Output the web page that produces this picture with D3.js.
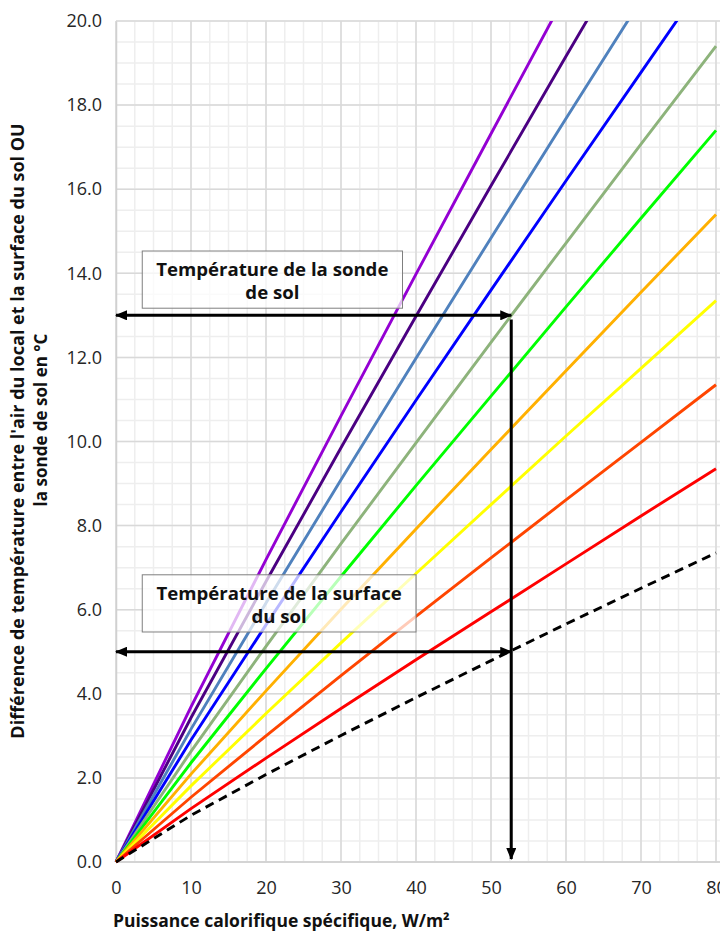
<!DOCTYPE html>
<html><head><meta charset="utf-8">
<script src="https://cdn.jsdelivr.net/npm/d3@7"></script>
<style>body{margin:0;background:#fff}svg{display:block;font-family:"Open Sans",sans-serif}</style>
</head><body><svg id="c" width="720" height="932"></svg>
<script>
// ---- data ----
const powerW = [0, 10, 20, 30, 40, 50, 60, 70, 80];
const curveViolet     = [0, 3.69, 7.19, 10.61, 13.98, 17.32, 20.64, 23.93, 27.20];
const curveIndigo     = [0, 3.43, 6.67, 9.85, 12.98, 16.08, 19.16, 22.21, 25.25];
const curveSteelBlue  = [0, 3.16, 6.16, 9.09, 11.98, 14.84, 17.68, 20.50, 23.30];
const curveBlue       = [0, 2.90, 5.64, 8.33, 10.98, 13.60, 16.20, 18.78, 21.35];
const curveOlive      = [0, 2.63, 5.13, 7.57, 9.97, 12.36, 14.72, 17.07, 19.40];
const curveGreen      = [0, 2.36, 4.60, 6.79, 8.95, 11.08, 13.20, 15.31, 17.40];
const curveOrange     = [0, 2.09, 4.07, 6.01, 7.92, 9.81, 11.68, 13.55, 15.40];
const curveYellow     = [0, 1.81, 3.53, 5.21, 6.86, 8.50, 10.13, 11.74, 13.35];
const curveOrangeRed  = [0, 1.54, 3.00, 4.43, 5.84, 7.23, 8.61, 9.98, 11.35];
const curveRed        = [0, 1.27, 2.47, 3.65, 4.81, 5.95, 7.09, 8.23, 9.35];
const curveSurface    = [0, 1.11, 2.08, 3.01, 3.91, 4.79, 5.66, 6.51, 7.35];

const xTickValues = [0, 10, 20, 30, 40, 50, 60, 70, 80];
const yTickValues = [0, 2, 4, 6, 8, 10, 12, 14, 16, 18, 20];
const yTickLabels = ["0.0","2.0","4.0","6.0","8.0","10.0","12.0","14.0","16.0","18.0","20.0"];

const xTitle = "Puissance calorifique spécifique, W/m²";
const yTitleLines = ["Différence de température entre l'air du local et la surface du sol OU", "la sonde de sol en °C"];

const readPower = 52.7, probeDelta = 13, surfaceDelta = 5;
const probeLabel = ["Température de la sonde", "de sol"];
const surfaceLabel = ["Température de la surface", "du sol"];

// ---- styles ----
const series = [
  {v: curveViolet, c: "#9400D3"},
  {v: curveIndigo, c: "#4B0082"},
  {v: curveSteelBlue, c: "#4F81BD"},
  {v: curveBlue, c: "#0000FF"},
  {v: curveOlive, c: "#8DB37B"},
  {v: curveGreen, c: "#00FF00"},
  {v: curveOrange, c: "#FFB000"},
  {v: curveYellow, c: "#FFFF00"},
  {v: curveOrangeRed, c: "#FF4500"},
  {v: curveRed, c: "#FF0000"},
  {v: curveSurface, c: "#000000", dash: "9,6"}
];

const svg = d3.select("#c");
const x = d3.scaleLinear().domain([0, 80]).range([116, 716]);
const y = d3.scaleLinear().domain([0, 20]).range([862, 21]);
const xMax = 81;

// grid
const g = svg.append("g");
g.selectAll(".mv").data(d3.range(0, 82.5, 2.5)).join("line")
  .attr("x1", d => x(d)).attr("x2", d => x(d)).attr("y1", y(0)).attr("y2", y(20))
  .attr("stroke", "#eeeeee").attr("stroke-width", 1.5);
g.selectAll(".mh").data(d3.range(0, 20.01, 0.5)).join("line")
  .attr("x1", x(0)).attr("x2", x(xMax)).attr("y1", d => y(d)).attr("y2", d => y(d))
  .attr("stroke", "#eeeeee").attr("stroke-width", 1.5);
g.selectAll(".Mv").data(xTickValues).join("line")
  .attr("x1", d => x(d)).attr("x2", d => x(d)).attr("y1", y(0)).attr("y2", y(20))
  .attr("stroke", "#d9d9d9").attr("stroke-width", 1.5);
g.selectAll(".Mh").data(yTickValues).join("line")
  .attr("x1", x(0)).attr("x2", x(xMax)).attr("y1", d => y(d)).attr("y2", d => y(d))
  .attr("stroke", "#d9d9d9").attr("stroke-width", 1.5);

// axes via d3 axis, styled
const xAxis = svg.append("g").attr("transform", `translate(0,${y(0)})`)
  .call(d3.axisBottom(x).tickValues(xTickValues).tickSize(0).tickPadding(19).tickFormat(d3.format("d")));
xAxis.select(".domain").attr("d", `M${x(0)},0H${x(xMax)}`).attr("stroke", "#d0d0d0").attr("stroke-width", 1.5);
xAxis.selectAll("text").attr("font-size", 18).attr("fill", "#262626").attr("font-family", "Open Sans");

const yAxis = svg.append("g").attr("transform", `translate(${x(0)},0)`)
  .call(d3.axisLeft(y).tickValues(yTickValues).tickSize(0).tickPadding(14).tickFormat((d, i) => yTickLabels[i]));
yAxis.select(".domain").attr("stroke", "#d0d0d0").attr("stroke-width", 1.5);
yAxis.selectAll("text").attr("font-size", 18).attr("fill", "#262626").attr("font-family", "Open Sans");

// clip
svg.append("clipPath").attr("id", "pc").append("rect")
  .attr("x", x(0) - 2).attr("y", y(20)).attr("width", 720).attr("height", y(0) - y(20) + 2);

const line = d3.line().x((d, i) => x(powerW[i])).y(d => y(d));
svg.append("g").attr("clip-path", "url(#pc)")
  .selectAll("path").data(series).join("path")
  .attr("d", s => line(s.v))
  .attr("fill", "none").attr("stroke", s => s.c).attr("stroke-width", 2.9)
  .attr("stroke-dasharray", s => s.dash || null);

// annotation boxes
function box(x0, x1, yTop, yBot, lines) {
  const bx = x(x0), by = y(yTop), bw = x(x1) - x(x0), bh = y(yBot) - y(yTop);
  svg.append("rect").attr("x", bx).attr("y", by).attr("width", bw).attr("height", bh)
    .attr("fill", "#ffffff").attr("fill-opacity", 0.72).attr("stroke", "#7f7f7f").attr("stroke-width", 1);
  const t = svg.append("text").attr("text-anchor", "middle").attr("font-size", 18.6)
    .attr("font-weight", "bold").attr("fill", "#111");
  lines.forEach((l, i) => t.append("tspan").attr("x", bx + bw / 2).attr("y", by + 25 + i * 23).text(l));
}
box(3.5, 38.2, 14.53, 13.17, probeLabel);
box(3.5, 40.0, 6.83, 5.47, surfaceLabel);

// arrows
const defs = svg.append("defs");
defs.append("marker").attr("id", "ah").attr("viewBox", "0 0 12 10").attr("refX", 11).attr("refY", 5)
  .attr("markerWidth", 12).attr("markerHeight", 10).attr("markerUnits", "userSpaceOnUse")
  .attr("orient", "auto-start-reverse")
  .append("path").attr("d", "M0,0L12,5L0,10Z").attr("fill", "#000");

function arrow(x0, y0, x1, y1, both) {
  svg.append("line").attr("x1", x(x0)).attr("y1", y(y0)).attr("x2", x(x1)).attr("y2", y(y1))
    .attr("stroke", "#000").attr("stroke-width", 3)
    .attr("marker-end", "url(#ah)").attr("marker-start", both ? "url(#ah)" : null);
}
arrow(0, probeDelta, readPower, probeDelta, true);
arrow(0, surfaceDelta, readPower, surfaceDelta, true);
arrow(readPower, probeDelta - 0.1, readPower, 0.07, false);

// titles
svg.append("text").attr("x", 113).attr("y", 927).attr("font-size", 17.5).attr("font-weight", "bold")
  .attr("fill", "#111").text(xTitle);
const ytCenters = [431, 420];
const ytBase = [24, 47];
const ytSizes = [18, 17];
yTitleLines.forEach((l, i) => svg.append("text")
  .attr("transform", `translate(${ytBase[i]},${ytCenters[i]}) rotate(-90)`)
  .attr("text-anchor", "middle").attr("font-size", ytSizes[i]).attr("font-weight", "bold").attr("fill", "#111")
  .text(l));
</script></body></html>
